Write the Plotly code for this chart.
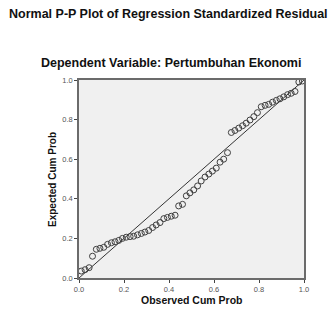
import plotly.graph_objects as go

observed_cum_prob = [0.010, 0.027, 0.045, 0.060, 0.077, 0.093, 0.110, 0.127, 0.144, 0.160,
                     0.177, 0.193, 0.210, 0.227, 0.243, 0.260, 0.277, 0.293, 0.310, 0.327,
                     0.343, 0.360, 0.377, 0.393, 0.410, 0.427, 0.443, 0.460, 0.477, 0.493,
                     0.510, 0.527, 0.543, 0.560, 0.577, 0.593, 0.610, 0.627, 0.643, 0.660,
                     0.677, 0.693, 0.710, 0.727, 0.743, 0.760, 0.777, 0.793, 0.810, 0.827,
                     0.843, 0.860, 0.877, 0.893, 0.910, 0.927, 0.943, 0.960, 0.977, 0.993]
expected_cum_prob = [0.035, 0.042, 0.052, 0.110, 0.145, 0.150, 0.155, 0.170, 0.178, 0.183,
                     0.190, 0.200, 0.206, 0.209, 0.211, 0.218, 0.225, 0.232, 0.240, 0.255,
                     0.268, 0.280, 0.300, 0.306, 0.312, 0.317, 0.364, 0.372, 0.415, 0.430,
                     0.445, 0.465, 0.490, 0.510, 0.525, 0.540, 0.555, 0.585, 0.600, 0.633,
                     0.735, 0.745, 0.757, 0.769, 0.782, 0.798, 0.815, 0.835, 0.865, 0.872,
                     0.877, 0.888, 0.897, 0.905, 0.915, 0.926, 0.933, 0.942, 0.990, 0.995]
ref_line = [0.0, 1.0]
tick_vals = [0.0, 0.2, 0.4, 0.6, 0.8, 1.0]
tick_text = ["0.0", "0.2", "0.4", "0.6", "0.8", "1.0"]

W, H = 329, 309
L, R, T, B = 79, 25, 80, 31
pw, ph = W - L - R, H - T - B

def px_x(p):
    return (p - L) / pw

def px_y(p):
    return (H - B - p) / ph

fig = go.Figure()
fig.add_trace(go.Scatter(x=ref_line, y=ref_line, mode="lines",
                         line=dict(color="#333333", width=1), hoverinfo="skip"))
fig.add_trace(go.Scatter(x=observed_cum_prob, y=expected_cum_prob, mode="markers",
                         marker=dict(symbol="circle-open", size=6,
                                     color="#404040", line=dict(width=1, color="#404040"))))

axis_common = dict(range=[0, 1], tickvals=tick_vals, ticktext=tick_text,
                   showgrid=False, zeroline=False, showline=True, mirror=True,
                   linecolor="#6b6b6b", linewidth=1.5, ticks="outside", ticklen=3,
                   tickcolor="#444444", tickfont=dict(family="Liberation Sans, Arial", size=7.5, color="#555555"))

fig.update_layout(
    width=W, height=H, margin=dict(l=L, r=R, t=T, b=B),
    paper_bgcolor="white", plot_bgcolor="#f0f0f0", showlegend=False,
    xaxis=dict(**axis_common),
    yaxis=dict(**axis_common),
    font=dict(family="Liberation Sans, Arial", color="#111111"),
    annotations=[
        dict(text="<b>Normal P-P Plot of Regression Standardized Residual</b>",
             xref="paper", yref="paper", x=px_x(168), y=px_y(14), xanchor="center", yanchor="middle",
             showarrow=False, font=dict(size=12.5, color="#111111")),
        dict(text="<b>Dependent Variable: Pertumbuhan Ekonomi</b>",
             xref="paper", yref="paper", x=px_x(171), y=px_y(63), xanchor="center", yanchor="middle",
             showarrow=False, font=dict(size=12.5, color="#111111")),
        dict(text="<b>Observed Cum Prob</b>",
             xref="paper", yref="paper", x=px_x(192), y=px_y(300), xanchor="center", yanchor="middle",
             showarrow=False, font=dict(size=10.5, color="#111111")),
        dict(text="<b>Expected Cum Prob</b>",
             xref="paper", yref="paper", x=px_x(52), y=px_y(180), xanchor="center", yanchor="middle",
             textangle=-90, showarrow=False, font=dict(size=10, color="#111111")),
    ],
)

fig.write_html("out.html", config={"displayModeBar": False},
               post_script="document.body.style.margin='0';")
